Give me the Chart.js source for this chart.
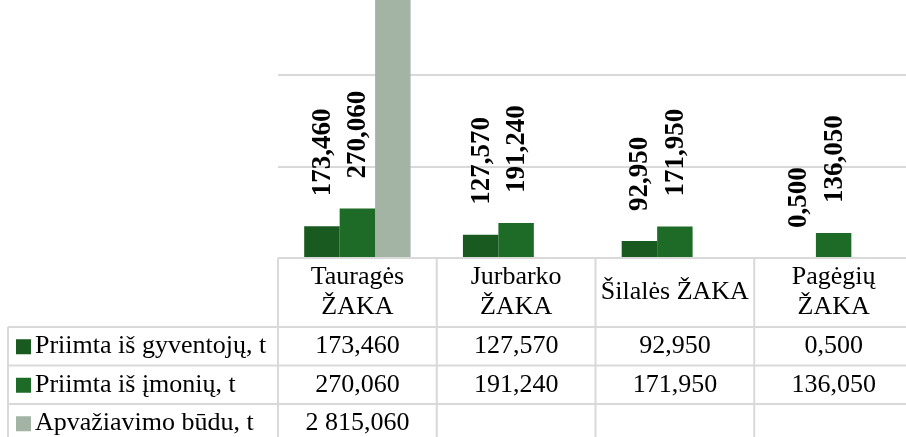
<!doctype html>
<html lang="lt">
<head>
<meta charset="utf-8">
<script src="https://cdn.jsdelivr.net/npm/chart.js/dist/chart.umd.min.js"></script>
<style>
  * { margin: 0; padding: 0; }
  body { background: #fff; overflow: hidden; }
  .box { width: 914px; height: 437px; overflow: hidden; }
</style>
</head>
<body>
<div class="box">
  <canvas id="zakaChart" width="914" height="437"></canvas>
</div>
<script>
// duomenys
const categories = [['Tauragės', 'ŽAKA'], ['Jurbarko', 'ŽAKA'], ['Šilalės ŽAKA'], ['Pagėgių', 'ŽAKA']];
const seriesNames = ['Priimta iš gyventojų, t', 'Priimta iš įmonių, t', 'Apvažiavimo būdu, t'];
const gyventoju = [173.46, 127.57, 92.95, 0.5];
const imoniu = [270.06, 191.24, 171.95, 136.05];
const apvaziavimo = [2815.06, null, null, null];
const gridValues = [500, 1000];
const colors = ['#195A20', '#1E6B27', '#A3B4A5'];

const FONT = '"Liberation Serif", "Times New Roman", serif';

function fmt(v) {
  const parts = v.toFixed(3).split('.');
  return parts[0].replace(/\B(?=(\d{3})+(?!\d))/g, ' ') + ',' + parts[1];
}

// etiketės virš stulpelių
const barLabels = {
  id: 'barLabels',
  afterDatasetsDraw(chart) {
    const ctx = chart.ctx;
    ctx.save();
    ctx.font = 'bold 27px ' + FONT;
    ctx.fillStyle = '#000';
    chart.data.datasets.forEach((ds, di) => {
      chart.getDatasetMeta(di).data.forEach((bar, i) => {
        const v = ds.data[i];
        if (v == null) return;
        ctx.save();
        ctx.translate(bar.x + 1, bar.y - 30);
        ctx.rotate(-Math.PI / 2);
        ctx.textAlign = 'left';
        ctx.textBaseline = 'middle';
        ctx.fillText(fmt(v), 0, 0);
        ctx.restore();
      });
    });
    ctx.restore();
  }
};

// duomenų lentelė po grafiku
const dataTable = {
  id: 'dataTable',
  afterDraw(chart) {
    const ctx = chart.ctx;
    const xs = chart.scales.x;
    const n = categories.length;
    const colW = (xs.right - xs.left) / n;
    const top = chart.chartArea.bottom;
    const headBottom = top + 69;
    const rowH = 38.5;
    const rowsBottom = headBottom + rowH * seriesNames.length;
    const leftX = 8;

    ctx.save();
    ctx.strokeStyle = '#d9d9d9';
    ctx.lineWidth = 2;
    ctx.beginPath();
    ctx.moveTo(xs.left, top); ctx.lineTo(chart.width, top);
    for (let r = 0; r <= seriesNames.length; r++) {
      const y = headBottom + r * rowH;
      ctx.moveTo(leftX, y); ctx.lineTo(chart.width, y);
    }
    ctx.moveTo(leftX, headBottom); ctx.lineTo(leftX, rowsBottom);
    for (let c = 0; c <= n; c++) {
      const x = xs.left + c * colW;
      ctx.moveTo(x, top); ctx.lineTo(x, rowsBottom);
    }
    ctx.stroke();

    ctx.fillStyle = '#000';
    ctx.font = '26px ' + FONT;
    ctx.textBaseline = 'middle';
    ctx.textAlign = 'center';
    const headMid = (top + headBottom) / 2;
    categories.forEach((lines, i) => {
      const cx = xs.getPixelForValue(i);
      lines.forEach((t, k) => {
        ctx.fillText(t, cx, headMid + (k - (lines.length - 1) / 2) * 30);
      });
    });

    chart.data.datasets.forEach((ds, di) => {
      const cy = headBottom + di * rowH + rowH / 2;
      ctx.fillStyle = colors[di];
      ctx.fillRect(16, cy - 7, 15, 15);
      ctx.fillStyle = '#000';
      ctx.textAlign = 'left';
      ctx.fillText(ds.label, 35, cy);
      ctx.textAlign = 'center';
      ds.data.forEach((v, i) => {
        if (v == null) return;
        ctx.fillText(fmt(v), xs.getPixelForValue(i), cy);
      });
    });
    ctx.restore();
  }
};

new Chart(document.getElementById('zakaChart'), {
  type: 'bar',
  data: {
    labels: categories,
    datasets: [
      { label: seriesNames[0], data: gyventoju, backgroundColor: colors[0] },
      { label: seriesNames[1], data: imoniu, backgroundColor: colors[1] },
      { label: seriesNames[2], data: apvaziavimo, backgroundColor: colors[2] }
    ]
  },
  options: {
    responsive: false,
    animation: false,
    categoryPercentage: 0.67,
    barPercentage: 1,
    layout: { padding: { left: 278, right: 1, top: 0, bottom: 179 } },
    plugins: { legend: { display: false }, tooltip: { enabled: false } },
    scales: {
      x: { display: false },
      y: {
        min: 0,
        max: 1410,
        afterBuildTicks: axis => { axis.ticks = gridValues.map(v => ({ value: v })); },
        ticks: { display: false },
        border: { display: false },
        grid: { drawTicks: false, lineWidth: 2, color: '#d9d9d9' }
      }
    }
  },
  plugins: [barLabels, dataTable]
});
</script>
</body>
</html>
